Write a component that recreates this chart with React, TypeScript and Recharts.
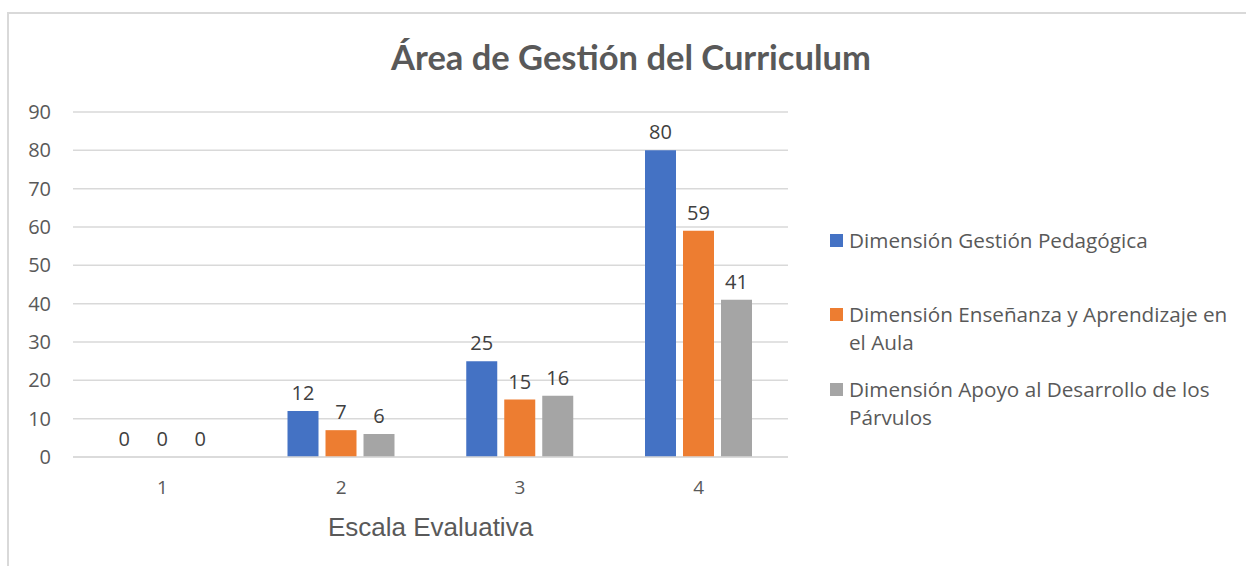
import React from 'react';
import { BarChart, Bar, XAxis, YAxis, CartesianGrid, LabelList, Label, Cell } from 'recharts';

const categories = ['1', '2', '3', '4'];
const gestion = [0, 12, 25, 80];
const ensenanza = [0, 7, 15, 59];
const apoyo = [0, 6, 16, 41];
const yTicks = [0, 10, 20, 30, 40, 50, 60, 70, 80, 90];
const seriesNames = [
  'Dimensión Gestión Pedagógica',
  'Dimensión Enseñanza y Aprendizaje en el Aula',
  'Dimensión Apoyo al Desarrollo de los Párvulos',
];
const seriesColors = ['#4472C4', '#ED7D31', '#A5A5A5'];
const seriesValues = [gestion, ensenanza, apoyo];
const title = 'Área de Gestión del Curriculum';
const xTitle = 'Escala Evaluativa';

const data = categories.map((c, i) => ({
  cat: c,
  s0: gestion[i],
  s1: ensenanza[i],
  s2: apoyo[i],
}));

const TEXT = '#595959';
const LABEL = '#404040';

const legendTops = [226, 300, 375];

const LegendBox = () => (
  <div style={{ position: 'absolute', left: 830, top: 0 }}>
    {seriesNames.map((n, i) => (
      <div
        key={n}
        style={{
          position: 'absolute',
          left: 0,
          top: legendTops[i],
          display: 'flex',
          alignItems: 'flex-start',
        }}
      >
        <div style={{ width: 13, height: 13, background: seriesColors[i], marginTop: 8, marginRight: 6, flex: 'none' }} />
        <div
          style={{
            width: 390,
            fontFamily: '"Open Sans", sans-serif',
            fontSize: 20.7,
            lineHeight: '28px',
            color: TEXT,
          }}
        >
          {n}
        </div>
      </div>
    ))}
  </div>
);

export default function App() {
  return (
    <div style={{ position: 'fixed', left: 0, top: 0, width: 1246, height: 566, background: '#fff', overflow: 'hidden' }}>
      <div
        style={{
          position: 'absolute',
          left: 7,
          top: 12,
          width: 1260,
          height: 600,
          borderTop: '2px solid #D9D9D9',
          borderLeft: '2px solid #D9D9D9',
        }}
      />
      <div
        style={{
          position: 'absolute',
          left: 0,
          width: 1262,
          top: 35,
          textAlign: 'center',
          fontFamily: 'Lato, sans-serif',
          fontWeight: 700,
          fontSize: 34.5,
          lineHeight: '44px',
          color: TEXT,
        }}
      >
        {title}
      </div>
      <LegendBox />
      <div style={{ position: 'absolute', left: 0, top: 0 }}>
        <BarChart
          width={1246}
          height={566}
          data={data}
          margin={{ top: 112, right: 458, bottom: 0, left: 0 }}
          barCategoryGap="20%"
          barGap={7}
        >
          <CartesianGrid vertical={false} stroke="#D9D9D9" strokeWidth={1.5} />
          <XAxis
            dataKey="cat"
            axisLine={{ stroke: '#D9D9D9', strokeWidth: 1.5 }}
            tickLine={false}
            tickSize={0}
            tickMargin={24}
            height={109}
            tick={{ fill: TEXT, fontSize: 19, fontFamily: '"Open Sans", sans-serif' }}
          >
            <Label
              value={xTitle}
              position="insideBottom"
              offset={30}
              style={{ fill: TEXT, fontSize: 26, fontFamily: '"Liberation Sans", Arial, sans-serif' }}
            />
          </XAxis>
          <YAxis
            domain={[0, 90]}
            ticks={yTicks}
            interval={0}
            axisLine={false}
            tickLine={false}
            tickSize={0}
            tickMargin={22}
            width={73}
            tick={{ fill: TEXT, fontSize: 20, fontFamily: '"Open Sans", sans-serif' }}
          />
          {['s0', 's1', 's2'].map((k, i) => (
            <Bar
              key={k}
              dataKey={k}
              name={seriesNames[i]}
              fill={seriesColors[i]}
              isAnimationActive={false}
              minPointSize={(v: number) => (v === 0 ? 0.01 : 0)}
            >
              {seriesValues[i].map((v, j) => (
                <Cell key={j} fill={v === 0 ? 'transparent' : seriesColors[i]} />
              ))}
              <LabelList
                dataKey={k}
                position="top"
                offset={11}
                style={{ fill: LABEL, fontSize: 20, fontFamily: '"Open Sans", sans-serif' }}
              />
            </Bar>
          ))}
        </BarChart>
      </div>
    </div>
  );
}
